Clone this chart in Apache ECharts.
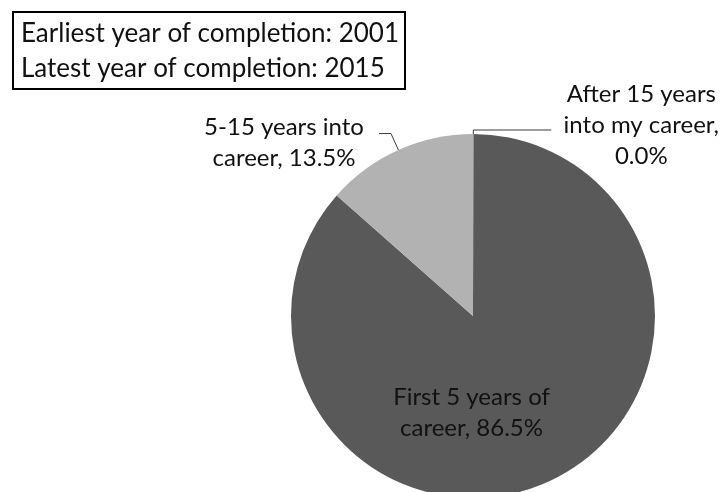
<!DOCTYPE html>
<html>
<head>
<meta charset="utf-8">
<script src="https://cdn.jsdelivr.net/npm/echarts@6/dist/echarts.min.js"></script>
<style>
  html, body { margin: 0; padding: 0; background: #ffffff; }
  #chart { width: 725px; height: 492px; }
</style>
</head>
<body>
<div id="chart"></div>
<script>
// Career stage at which the degree was completed (share of respondents, %)
const categories = ['After 15 years into my career', 'First 5 years of career', '5-15 years into career'];
const shares = [0.0, 86.5, 13.5];
const labelText = [
  ['After 15 years', 'into my career,'],
  ['First 5 years of', 'career,'],
  ['5-15 years into', 'career,']
];
const sliceColors = ['#595959', '#595959', '#b2b2b2'];

// Range of completion years shown in the note box
const noteLabels = ['Earliest year of completion', 'Latest year of completion'];
const noteYears = [2001, 2015];

const FONT = 'Lato, "Open Sans", sans-serif';
const TEXT_COLOR = '#111111';
const LABEL_SIZE = 24;

function richStyle(width) {
  return {
    c: { width: width, align: 'center', fontFamily: FONT, fontSize: LABEL_SIZE, lineHeight: 31, color: TEXT_COLOR }
  };
}

// The value goes on the last line; a label that ends with a comma gets the value on a line of its own.
function labelFormatter(i) {
  const lines = labelText[i].slice();
  const pct = shares[i].toFixed(1) + '%';
  const last = lines[lines.length - 1];
  if (last === 'career,' ) lines[lines.length - 1] = last + ' ' + pct;
  else lines.push(pct);
  return lines.map(function (t) { return '{c|' + t + '}'; }).join('\n');
}

// Per-slice label placement: the zero slice is labelled to the right of the top,
// the small slice up-left, the large slice inside.
const labelSetup = [
  { label: { position: 'outside', rich: richStyle(170), padding: [0, 0, 10, 0] },
    labelLine: { show: true, length: 4, length2: 78 } },
  { label: { position: 'inside', rich: richStyle(180) },
    labelLine: { show: false } },
  { label: { position: 'outside', rich: richStyle(180), padding: [18, 0, 0, 0] },
    labelLine: { show: true, length: 18, length2: 12 } }
];

const pieData = categories.map(function (name, i) {
  return {
    name: name,
    value: shares[i],
    itemStyle: { color: sliceColors[i] },
    label: Object.assign({ show: true, formatter: labelFormatter(i) }, labelSetup[i].label),
    labelLine: labelSetup[i].labelLine
  };
});

const chart = echarts.init(document.getElementById('chart'), null, { renderer: 'canvas' });

chart.setOption({
  backgroundColor: '#ffffff',
  animation: false,
  series: [{
    type: 'pie',
    center: [473, 316],
    radius: 182,
    // a hair under 90 keeps the zero-width slice on the right-hand side of the top
    startAngle: 89.9,
    clockwise: true,
    avoidLabelOverlap: false,
    minShowLabelAngle: 0,
    silent: true,
    itemStyle: { borderWidth: 0 },
    label: { fontFamily: FONT, fontSize: LABEL_SIZE, color: TEXT_COLOR },
    labelLine: { lineStyle: { color: '#3a3a3a', width: 1 }, smooth: false },
    labelLayout: function (params) {
      if (params.dataIndex === 1) return { dx: -40, dy: 11 };
      return {};
    },
    data: pieData
  }],
  graphic: [{
    type: 'group',
    left: 12,
    top: 11,
    children: [
      { type: 'rect', shape: { x: 0, y: 0, width: 392, height: 77 },
        style: { fill: '#ffffff', stroke: '#000000', lineWidth: 2 } },
      { type: 'text', x: 8, y: 22,
        style: { text: noteLabels[0] + ': ' + noteYears[0], font: '26px ' + FONT, fill: TEXT_COLOR, verticalAlign: 'middle' } },
      { type: 'text', x: 8, y: 57,
        style: { text: noteLabels[1] + ': ' + noteYears[1], font: '26px ' + FONT, fill: TEXT_COLOR, verticalAlign: 'middle' } }
    ]
  }]
});
</script>
</body>
</html>
